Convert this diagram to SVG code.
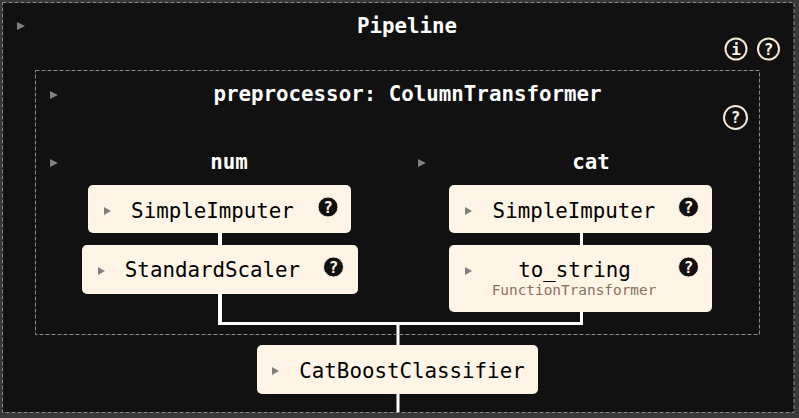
<svg xmlns="http://www.w3.org/2000/svg" width="799" height="418" viewBox="0 0 799 418">
<style>
text{font-family:"DejaVu Sans Mono",monospace;text-anchor:middle}
.title{font-size:20.8px;font-weight:bold;fill:#fff}
.label{font-size:20.8px;fill:#000}
.sub{font-size:14.4px;fill:#8a6f5c}
.box{fill:#fff5e6}
.frame{fill:none;stroke:#8a8a8a;stroke-width:1;stroke-dasharray:4 2}
.tri{fill:#808080}
.wire{fill:none;stroke:#fff;stroke-width:3}
.wire4{fill:none;stroke:#fff;stroke-width:4}
.help{fill:#111;stroke:#f5e6d5;stroke-width:1}
.helpt{font-size:16px;font-weight:bold;fill:#fff5e6}
.ring{fill:none;stroke:#f5e6d5;stroke-width:2}
.ringt{font-size:16px;font-weight:bold;fill:#fff5e6}
</style>
<rect width="799" height="418" fill="#383838"/>
<rect x="2.5" y="2.5" width="791.500" height="410" fill="#111"/>
<g id="connectors">
<path class="wire4" d="M220 232V325"/>
<path class="wire" d="M220 323.500H581.500V232M398 323.500V412"/>
</g>
<g id="pipeline">
<rect class="frame" x="2.5" y="2.5" width="791.500" height="410"/>
<path class="tri" d="M17 22l8 4-8 4z"/>
<text class="title" x="407" y="33">Pipeline</text>
<circle class="ring" cx="736" cy="49" r="10.500"/><text class="ringt" x="736" y="55">i</text>
<circle class="ring" cx="768.500" cy="49" r="10.500"/><text class="ringt" x="768.500" y="55">?</text>
</g>
<g id="preprocessor">
<rect class="frame" x="35.500" y="70.500" width="724" height="264"/>
<path class="tri" d="M50 91l8 4-8 4z"/>
<text class="title" x="407.500" y="101">preprocessor: ColumnTransformer</text>
<circle class="ring" cx="735.500" cy="117.500" r="11.500"/><text class="ringt" x="735.500" y="123">?</text>
</g>
<g id="num">
<path class="tri" d="M50 159l8 4-8 4z"/>
<text class="title" x="229" y="169">num</text>
</g>
<g id="cat">
<path class="tri" d="M418 159l8 4-8 4z"/>
<text class="title" x="591" y="169">cat</text>
</g>
<g id="num-imputer">
<rect class="box" x="88" y="185" width="263" height="48" rx="5"/>
<path class="tri" d="M104 207l7 4-7 4z"/>
<text class="label" x="212.500" y="217.500">SimpleImputer</text>
<circle class="help" cx="328" cy="207" r="10"/><text class="helpt" x="328" y="213">?</text>
</g>
<g id="num-scaler">
<rect class="box" x="82" y="245" width="276" height="49" rx="5"/>
<path class="tri" d="M98 267l7 4-7 4z"/>
<text class="label" x="212.500" y="276.500">StandardScaler</text>
<circle class="help" cx="333.500" cy="267" r="10"/><text class="helpt" x="333.500" y="273">?</text>
</g>
<g id="cat-imputer">
<rect class="box" x="449" y="185" width="263" height="48" rx="5"/>
<path class="tri" d="M465 207l7 4-7 4z"/>
<text class="label" x="574" y="217.500">SimpleImputer</text>
<circle class="help" cx="688.500" cy="207" r="10"/><text class="helpt" x="688.500" y="213">?</text>
</g>
<g id="cat-tostring">
<rect class="box" x="449" y="245" width="263" height="67" rx="5"/>
<path class="tri" d="M465 267l7 4-7 4z"/>
<text class="label" x="574.500" y="276.500">to_string</text>
<text class="sub" x="574" y="295">FunctionTransformer</text>
<circle class="help" cx="688.500" cy="267" r="10"/><text class="helpt" x="688.500" y="273">?</text>
</g>
<g id="classifier">
<rect class="box" x="257" y="345" width="281" height="49" rx="5"/>
<path class="tri" d="M272 367l7 4-7 4z"/>
<text class="label" x="412" y="377.500">CatBoostClassifier</text>
</g>
</svg>
